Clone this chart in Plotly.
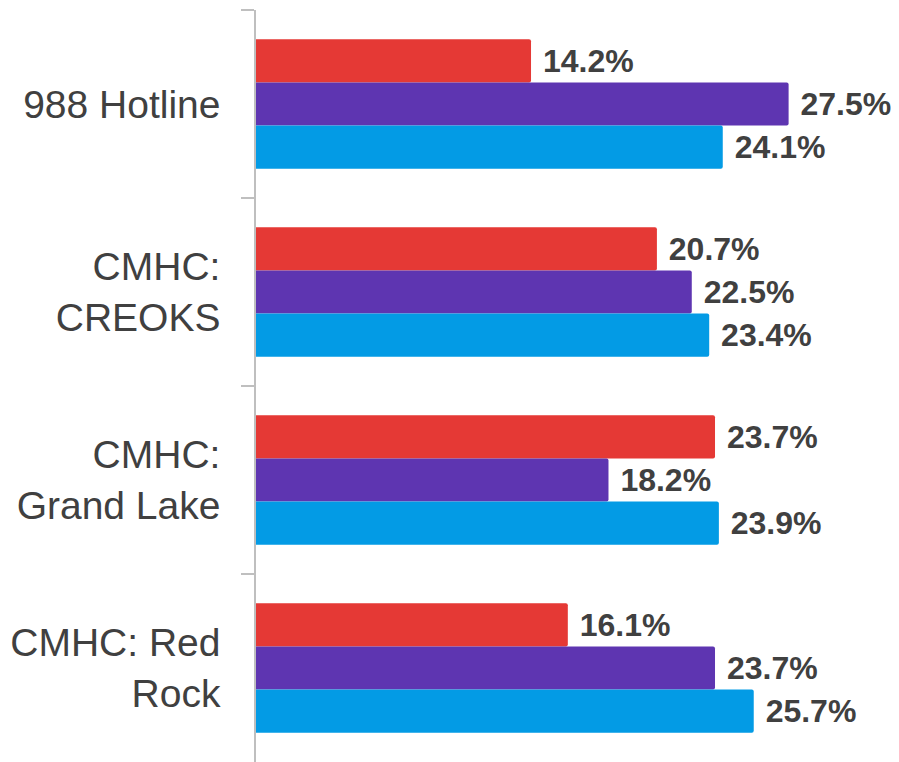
import plotly.graph_objects as go

categories = ["988 Hotline", "CMHC:<br>CREOKS", "CMHC:<br>Grand Lake", "CMHC: Red<br>Rock"]
series_names = ["Series A", "Series B", "Series C"]
red_values = [14.2, 20.7, 23.7, 16.1]
purple_values = [27.5, 22.5, 18.2, 23.7]
blue_values = [24.1, 23.4, 23.9, 25.7]
colors = ["#E53935", "#5E35B1", "#039BE5"]

fig = go.Figure()
for name, vals, col in zip(series_names, [red_values, purple_values, blue_values], colors):
    fig.add_trace(go.Bar(
        y=categories, x=vals, orientation="h", name=name,
        marker=dict(color=col, line=dict(width=0), cornerradius=2),
        text=vals, texttemplate=" %{x:.1f}%", textposition="outside",
        textfont=dict(family="Liberation Sans, Arial", size=32, color="#404040", weight="bold"),
        cliponaxis=False,
    ))

# page body has an 8px default margin, so the figure is sized to fill the rest of the window
fig.update_layout(
    width=891, height=754,
    margin=dict(l=248, r=0, t=2, b=0, autoexpand=False),
    barmode="group", bargap=0.31, bargroupgap=0,
    plot_bgcolor="white", paper_bgcolor="white",
    showlegend=False,
    font=dict(family="Liberation Sans, Arial", color="#404040"),
)
fig.update_xaxes(range=[0, 33.2], visible=False, showgrid=False, zeroline=False, automargin=False)
fig.update_yaxes(
    autorange="reversed", tickson="boundaries", ticks="outside", ticklen=13,
    tickcolor="#BFBFBF", tickwidth=1.5, showline=True, linecolor="#BFBFBF", linewidth=1.5,
    showgrid=False, ticklabelstandoff=26, automargin=False,
    tickfont=dict(family="Liberation Sans, Arial", size=39, color="#404040"),
)
fig.write_html("out.html")
